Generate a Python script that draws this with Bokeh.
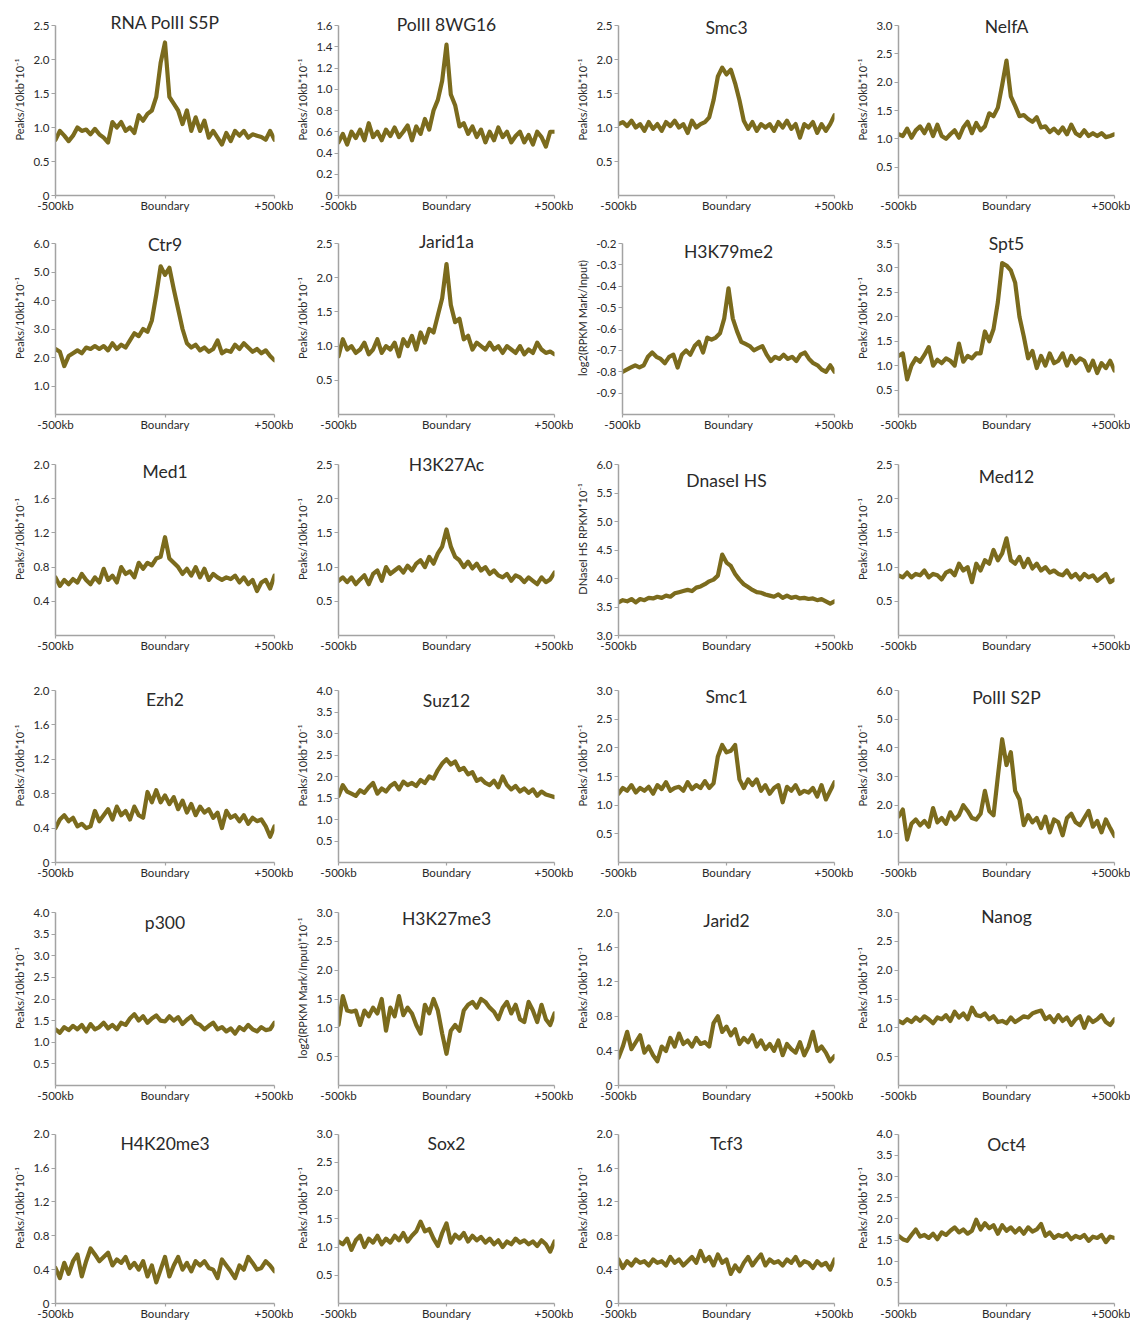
from bokeh.plotting import figure
from bokeh.models import Range1d, FixedTicker, Label
from bokeh.layouts import column, row
from bokeh.embed import file_html
from bokeh.resources import INLINE

# ---------------- data ----------------
positions_kb = list(range(-500, 501, 20))
x_tick_values = [-500, 0, 500]
x_tick_labels = ["-500kb", "Boundary", "+500kb"]

rna_polii_s5p = [0.82, 0.95, 0.88, 0.80, 0.88, 1.00, 0.95, 0.97, 0.90, 0.98, 0.90, 0.85, 0.78, 1.08, 1.00, 1.08, 0.95, 1.00, 0.92, 1.18, 1.10, 1.20, 1.25, 1.45, 1.95, 2.25, 1.45, 1.35, 1.25, 1.05, 1.25, 0.95, 1.15, 0.95, 1.10, 0.85, 0.95, 0.85, 0.75, 0.92, 0.80, 0.95, 0.88, 0.95, 0.85, 0.90, 0.88, 0.86, 0.82, 0.95, 0.82]
polii_8wg16 = [0.50, 0.58, 0.48, 0.60, 0.54, 0.62, 0.52, 0.68, 0.55, 0.60, 0.52, 0.62, 0.56, 0.64, 0.55, 0.60, 0.66, 0.52, 0.65, 0.58, 0.72, 0.62, 0.80, 0.90, 1.08, 1.42, 0.95, 0.85, 0.65, 0.68, 0.58, 0.65, 0.55, 0.62, 0.50, 0.60, 0.52, 0.64, 0.55, 0.60, 0.50, 0.56, 0.60, 0.50, 0.57, 0.48, 0.60, 0.55, 0.46, 0.60, 0.60]
smc3 = [1.05, 1.08, 1.02, 1.10, 1.00, 1.05, 0.95, 1.08, 0.98, 1.05, 0.95, 1.08, 1.02, 1.10, 1.00, 1.05, 0.92, 1.10, 1.00, 1.05, 1.08, 1.15, 1.40, 1.75, 1.88, 1.78, 1.85, 1.65, 1.40, 1.10, 0.98, 1.08, 0.95, 1.05, 1.00, 1.05, 0.95, 1.08, 1.00, 1.10, 0.98, 1.05, 0.85, 1.05, 1.00, 1.08, 0.92, 1.05, 0.95, 1.05, 1.18]
nelfa = [1.08, 1.05, 1.18, 1.02, 1.15, 1.22, 1.10, 1.25, 1.05, 1.25, 1.05, 1.00, 1.08, 1.15, 1.02, 1.20, 1.30, 1.10, 1.28, 1.15, 1.22, 1.45, 1.40, 1.55, 1.95, 2.38, 1.75, 1.58, 1.40, 1.42, 1.35, 1.30, 1.38, 1.20, 1.22, 1.12, 1.18, 1.10, 1.20, 1.08, 1.25, 1.10, 1.05, 1.15, 1.05, 1.10, 1.05, 1.10, 1.03, 1.05, 1.08]
ctr9 = [2.30, 2.20, 1.70, 2.05, 2.15, 2.25, 2.15, 2.35, 2.30, 2.40, 2.30, 2.40, 2.25, 2.50, 2.30, 2.45, 2.35, 2.60, 2.85, 2.75, 3.00, 2.90, 3.30, 4.20, 5.20, 4.90, 5.15, 4.40, 3.70, 3.00, 2.50, 2.35, 2.45, 2.25, 2.35, 2.20, 2.30, 2.60, 2.15, 2.25, 2.20, 2.45, 2.30, 2.50, 2.35, 2.20, 2.30, 2.15, 2.25, 2.05, 1.90]
jarid1a = [0.85, 1.10, 0.95, 1.00, 0.90, 0.95, 1.05, 0.88, 0.95, 1.10, 0.90, 1.00, 0.95, 1.05, 0.85, 1.10, 1.00, 1.15, 0.95, 1.20, 1.05, 1.25, 1.20, 1.45, 1.70, 2.20, 1.60, 1.35, 1.40, 1.10, 1.15, 0.95, 1.05, 1.00, 0.95, 1.05, 0.95, 1.00, 0.90, 1.00, 0.95, 0.90, 1.00, 0.88, 0.95, 0.90, 1.05, 0.95, 0.90, 0.92, 0.88]
h3k79me2 = [-0.80, -0.79, -0.78, -0.77, -0.78, -0.77, -0.73, -0.71, -0.73, -0.74, -0.76, -0.73, -0.72, -0.78, -0.72, -0.70, -0.72, -0.68, -0.66, -0.71, -0.64, -0.65, -0.64, -0.62, -0.55, -0.41, -0.55, -0.61, -0.66, -0.67, -0.68, -0.70, -0.69, -0.68, -0.72, -0.75, -0.73, -0.74, -0.72, -0.74, -0.73, -0.75, -0.72, -0.71, -0.74, -0.76, -0.77, -0.79, -0.80, -0.77, -0.80]
spt5 = [1.20, 1.25, 0.72, 1.00, 1.15, 1.08, 1.22, 1.38, 1.00, 1.12, 1.05, 1.15, 1.10, 1.00, 1.45, 1.08, 1.20, 1.15, 1.25, 1.25, 1.70, 1.50, 1.75, 2.30, 3.10, 3.05, 2.95, 2.70, 2.00, 1.60, 1.15, 1.30, 0.95, 1.20, 1.00, 1.25, 1.05, 1.10, 1.25, 1.00, 1.20, 1.05, 1.15, 1.10, 0.90, 1.10, 0.85, 1.05, 0.95, 1.10, 0.90]
med1 = [0.68, 0.58, 0.65, 0.60, 0.66, 0.62, 0.72, 0.65, 0.60, 0.68, 0.62, 0.78, 0.65, 0.70, 0.62, 0.80, 0.72, 0.75, 0.68, 0.85, 0.78, 0.85, 0.82, 0.90, 0.92, 1.15, 0.90, 0.85, 0.80, 0.72, 0.78, 0.70, 0.80, 0.68, 0.78, 0.65, 0.72, 0.68, 0.65, 0.68, 0.66, 0.70, 0.62, 0.68, 0.60, 0.65, 0.52, 0.62, 0.65, 0.55, 0.70]
h3k27ac = [0.80, 0.85, 0.78, 0.85, 0.75, 0.82, 0.88, 0.75, 0.90, 0.95, 0.80, 1.00, 0.90, 0.95, 1.00, 0.92, 1.02, 0.95, 1.05, 1.10, 1.00, 1.15, 1.05, 1.20, 1.30, 1.55, 1.30, 1.15, 1.10, 1.00, 1.08, 0.98, 1.05, 0.95, 1.00, 0.90, 0.95, 0.88, 0.85, 0.90, 0.80, 0.88, 0.85, 0.78, 0.85, 0.80, 0.75, 0.85, 0.78, 0.82, 0.92]
dnasei_hs = [3.58, 3.62, 3.60, 3.64, 3.58, 3.64, 3.62, 3.66, 3.65, 3.68, 3.66, 3.70, 3.68, 3.74, 3.76, 3.78, 3.80, 3.78, 3.84, 3.86, 3.90, 3.95, 3.98, 4.05, 4.42, 4.28, 4.22, 4.08, 3.98, 3.90, 3.85, 3.80, 3.76, 3.75, 3.72, 3.70, 3.68, 3.72, 3.66, 3.70, 3.66, 3.68, 3.65, 3.66, 3.64, 3.65, 3.62, 3.64, 3.60, 3.56, 3.60]
med12 = [0.88, 0.85, 0.92, 0.85, 0.90, 0.88, 0.95, 0.85, 0.90, 0.88, 0.82, 0.92, 0.95, 0.88, 1.05, 0.95, 1.00, 0.78, 1.05, 0.95, 1.10, 1.05, 1.25, 1.10, 1.20, 1.42, 1.10, 1.05, 1.15, 1.00, 1.12, 0.98, 1.05, 0.95, 1.00, 0.92, 0.95, 0.90, 0.88, 0.95, 0.85, 0.90, 0.82, 0.90, 0.85, 0.88, 0.80, 0.85, 0.90, 0.78, 0.82]
ezh2 = [0.40, 0.50, 0.55, 0.48, 0.52, 0.42, 0.45, 0.40, 0.42, 0.60, 0.48, 0.55, 0.62, 0.50, 0.65, 0.55, 0.60, 0.50, 0.65, 0.55, 0.52, 0.82, 0.70, 0.84, 0.70, 0.78, 0.68, 0.76, 0.62, 0.72, 0.58, 0.68, 0.55, 0.65, 0.58, 0.62, 0.52, 0.58, 0.40, 0.60, 0.52, 0.55, 0.48, 0.55, 0.45, 0.52, 0.48, 0.50, 0.42, 0.30, 0.42]
suz12 = [1.55, 1.80, 1.65, 1.60, 1.55, 1.68, 1.62, 1.75, 1.85, 1.60, 1.72, 1.65, 1.78, 1.85, 1.70, 1.88, 1.80, 1.85, 1.78, 1.92, 1.85, 2.00, 1.95, 2.15, 2.30, 2.40, 2.28, 2.35, 2.15, 2.20, 2.05, 2.10, 1.90, 1.95, 1.85, 1.80, 1.90, 1.75, 2.00, 1.80, 1.70, 1.78, 1.65, 1.72, 1.62, 1.70, 1.55, 1.65, 1.58, 1.55, 1.52]
smc1 = [1.20, 1.30, 1.25, 1.35, 1.22, 1.30, 1.25, 1.32, 1.20, 1.35, 1.28, 1.40, 1.25, 1.30, 1.32, 1.25, 1.40, 1.28, 1.35, 1.30, 1.42, 1.30, 1.38, 1.85, 2.05, 1.92, 1.95, 2.05, 1.45, 1.30, 1.45, 1.35, 1.45, 1.25, 1.35, 1.20, 1.30, 1.35, 1.05, 1.32, 1.25, 1.35, 1.20, 1.25, 1.22, 1.30, 1.15, 1.35, 1.10, 1.25, 1.40]
polii_s2p = [1.60, 1.85, 0.80, 1.35, 1.50, 1.30, 1.45, 1.25, 1.90, 1.40, 1.55, 1.35, 1.75, 1.50, 1.65, 2.00, 1.80, 1.55, 1.50, 1.70, 2.50, 1.80, 1.65, 3.00, 4.30, 3.40, 3.85, 2.50, 2.20, 1.30, 1.65, 1.40, 1.55, 1.20, 1.60, 1.05, 1.50, 1.40, 0.95, 1.55, 1.70, 1.40, 1.30, 1.55, 1.80, 1.25, 1.45, 1.05, 1.50, 1.20, 0.92]
p300 = [1.30, 1.22, 1.35, 1.28, 1.38, 1.30, 1.40, 1.25, 1.42, 1.30, 1.35, 1.45, 1.32, 1.40, 1.30, 1.45, 1.40, 1.55, 1.65, 1.50, 1.60, 1.45, 1.55, 1.62, 1.50, 1.48, 1.60, 1.50, 1.58, 1.42, 1.52, 1.60, 1.45, 1.40, 1.30, 1.38, 1.45, 1.30, 1.35, 1.25, 1.32, 1.20, 1.35, 1.28, 1.40, 1.30, 1.25, 1.35, 1.28, 1.30, 1.45]
h3k27me3 = [1.05, 1.55, 1.30, 1.28, 1.30, 1.05, 1.30, 1.20, 1.35, 1.25, 1.50, 0.95, 1.35, 1.20, 1.55, 1.22, 1.35, 1.25, 1.05, 0.90, 1.40, 1.25, 1.50, 1.30, 0.90, 0.55, 0.95, 1.05, 0.95, 1.30, 1.40, 1.45, 1.35, 1.50, 1.45, 1.35, 1.28, 1.15, 1.35, 1.45, 1.25, 1.40, 1.15, 1.10, 1.45, 1.30, 1.10, 1.40, 1.15, 1.05, 1.25]
jarid2 = [0.32, 0.45, 0.62, 0.42, 0.50, 0.58, 0.38, 0.45, 0.35, 0.28, 0.45, 0.40, 0.55, 0.45, 0.60, 0.48, 0.52, 0.45, 0.55, 0.48, 0.50, 0.45, 0.72, 0.80, 0.62, 0.68, 0.58, 0.65, 0.48, 0.55, 0.50, 0.58, 0.45, 0.52, 0.42, 0.48, 0.40, 0.52, 0.35, 0.48, 0.42, 0.38, 0.50, 0.35, 0.45, 0.62, 0.40, 0.45, 0.38, 0.28, 0.34]
nanog = [1.12, 1.08, 1.15, 1.10, 1.18, 1.12, 1.20, 1.15, 1.08, 1.18, 1.15, 1.22, 1.12, 1.28, 1.18, 1.25, 1.15, 1.35, 1.22, 1.20, 1.25, 1.15, 1.20, 1.10, 1.12, 1.08, 1.18, 1.10, 1.15, 1.20, 1.18, 1.25, 1.28, 1.30, 1.15, 1.20, 1.10, 1.22, 1.12, 1.18, 1.05, 1.15, 1.20, 1.00, 1.18, 1.10, 1.15, 1.22, 1.10, 1.05, 1.15]
h4k20me3 = [0.42, 0.30, 0.48, 0.35, 0.50, 0.58, 0.32, 0.50, 0.65, 0.58, 0.50, 0.55, 0.60, 0.45, 0.52, 0.48, 0.55, 0.42, 0.48, 0.40, 0.50, 0.32, 0.45, 0.25, 0.40, 0.55, 0.32, 0.45, 0.55, 0.40, 0.48, 0.38, 0.50, 0.45, 0.50, 0.42, 0.40, 0.30, 0.52, 0.45, 0.38, 0.30, 0.45, 0.40, 0.55, 0.48, 0.40, 0.42, 0.50, 0.45, 0.38]
sox2 = [1.10, 1.05, 1.15, 0.95, 1.12, 1.20, 1.00, 1.15, 1.08, 1.20, 1.05, 1.15, 1.08, 1.20, 1.12, 1.25, 1.10, 1.20, 1.28, 1.45, 1.28, 1.32, 1.15, 1.02, 1.25, 1.42, 1.08, 1.22, 1.15, 1.25, 1.10, 1.20, 1.12, 1.18, 1.08, 1.15, 1.05, 1.12, 1.00, 1.10, 1.05, 1.15, 1.08, 1.12, 1.05, 1.10, 1.02, 1.12, 1.05, 0.92, 1.10]
tcf3 = [0.52, 0.42, 0.50, 0.45, 0.52, 0.48, 0.50, 0.45, 0.52, 0.48, 0.50, 0.45, 0.55, 0.48, 0.52, 0.45, 0.50, 0.55, 0.48, 0.62, 0.50, 0.55, 0.45, 0.58, 0.48, 0.52, 0.35, 0.45, 0.38, 0.48, 0.55, 0.45, 0.52, 0.58, 0.45, 0.52, 0.48, 0.50, 0.45, 0.52, 0.48, 0.55, 0.45, 0.50, 0.48, 0.42, 0.50, 0.45, 0.48, 0.40, 0.52]
oct4 = [1.60, 1.52, 1.48, 1.62, 1.75, 1.58, 1.62, 1.55, 1.65, 1.52, 1.68, 1.62, 1.72, 1.80, 1.68, 1.75, 1.65, 1.72, 1.98, 1.75, 1.90, 1.78, 1.85, 1.65, 1.85, 1.72, 1.80, 1.68, 1.78, 1.65, 1.80, 1.70, 1.75, 1.88, 1.60, 1.68, 1.55, 1.62, 1.58, 1.65, 1.52, 1.60, 1.55, 1.62, 1.48, 1.58, 1.55, 1.62, 1.45, 1.58, 1.55]

titles = ["RNA PolII S5P", "PolII 8WG16", "Smc3", "NelfA",
          "Ctr9", "Jarid1a", "H3K79me2", "Spt5",
          "Med1", "H3K27Ac", "DnaseI HS", "Med12",
          "Ezh2", "Suz12", "Smc1", "PolII S2P",
          "p300", "H3K27me3", "Jarid2", "Nanog",
          "H4K20me3", "Sox2", "Tcf3", "Oct4"]
series = [rna_polii_s5p, polii_8wg16, smc3, nelfa,
          ctr9, jarid1a, h3k79me2, spt5,
          med1, h3k27ac, dnasei_hs, med12,
          ezh2, suz12, smc1, polii_s2p,
          p300, h3k27me3, jarid2, nanog,
          h4k20me3, sox2, tcf3, oct4]

y_ranges = [(0, 2.5), (0, 1.6), (0, 2.5), (0, 3.0),
            (0, 6.0), (0, 2.5), (-1.0, -0.2), (0, 3.5),
            (0, 2.0), (0, 2.5), (3.0, 6.0), (0, 2.5),
            (0, 2.0), (0, 4.0), (0, 3.0), (0, 6.0),
            (0, 4.0), (0, 3.0), (0, 2.0), (0, 3.0),
            (0, 2.0), (0, 3.0), (0, 2.0), (0, 4.0)]

t_025z = [0, 0.5, 1.0, 1.5, 2.0, 2.5]
t_016z = [0, 0.2, 0.4, 0.6, 0.8, 1.0, 1.2, 1.4, 1.6]
t_025 = [0.5, 1.0, 1.5, 2.0, 2.5]
t_030 = [0.5, 1.0, 1.5, 2.0, 2.5, 3.0]
t_035 = [0.5, 1.0, 1.5, 2.0, 2.5, 3.0, 3.5]
t_040 = [0.5, 1.0, 1.5, 2.0, 2.5, 3.0, 3.5, 4.0]
t_060 = [1.0, 2.0, 3.0, 4.0, 5.0, 6.0]
t_020 = [0.4, 0.8, 1.2, 1.6, 2.0]
t_020z = [0, 0.4, 0.8, 1.2, 1.6, 2.0]
t_neg = [-0.9, -0.8, -0.7, -0.6, -0.5, -0.4, -0.3, -0.2]
t_dn = [3.0, 3.5, 4.0, 4.5, 5.0, 5.5, 6.0]
y_ticks = [t_025z, t_016z, t_025, t_030,
           t_060, t_025, t_neg, t_035,
           t_020, t_025, t_dn, t_025,
           t_020z, t_040, t_030, t_060,
           t_040, t_030, t_020z, t_030,
           t_020z, t_030, t_020z, t_040]

peaks_label = "Peaks/10kb*10\u207b\u00b9"
y_labels = [peaks_label] * 24
y_labels[6] = "log2(RPKM Mark/Input)"
y_labels[10] = "DNaseI HS RPKM*10\u207b\u00b9"
y_labels[17] = "log2(RPKM Mark/Input)*10\u207b\u00b9"

# ---------------- layout / style ----------------
title_offsets_px = [-3, -1, 2, 1,
                    1, -2, 8, 0,
                    7, 0, 16, 12,
                    9, 10, 6, 7,
                    10, 6, 8, 4,
                    9, 9, 9, 10]
col_widths = [293, 280, 280, 277]
col_left = [55, 42, 42, 42]
frame_w = 219
row_heights = [220, 220, 225, 222, 222, 213]
row_top = [25, 23, 24, 25, 25, 25]
row_frame_h = [170, 171, 171, 172, 173, 171]
headroom_px = 22

FONT = "Lato"
LINE_COLOR = "#7b6b1d"
AXIS_COLOR = "#a3a3a3"
TEXT_COLOR = "#2a2a2a"


def tick_label(v):
    return "0" if v == 0 else f"{v:.1f}"


rows = []
for r in range(6):
    figs = []
    for c in range(4):
        k = r * 4 + c
        ymin, ymax = y_ranges[k]
        w = col_widths[c]
        h = row_heights[r]
        fh = row_frame_h[r]
        per_px = (ymax - ymin) / fh
        ytop = ymax + headroom_px * per_px
        p = figure(width=w, height=h, output_backend="svg", toolbar_location=None,
                   x_range=Range1d(-500, 500), y_range=Range1d(ymin, ytop),
                   min_border_left=col_left[c], min_border_right=w - col_left[c] - frame_w,
                   min_border_top=row_top[r] - headroom_px,
                   min_border_bottom=h - row_top[r] - fh)
        p.outline_line_color = None
        p.grid.visible = False
        p.background_fill_color = "white"
        p.border_fill_color = "white"

        p.line(positions_kb, series[k], line_color=LINE_COLOR, line_width=4.2,
               line_join="round", line_cap="round")

        xa = p.xaxis[0]
        xa.ticker = FixedTicker(ticks=x_tick_values)
        xa.major_label_overrides = {v: s for v, s in zip(x_tick_values, x_tick_labels)}
        ya = p.yaxis[0]
        ya.ticker = FixedTicker(ticks=y_ticks[k])
        ya.major_label_overrides = {v: tick_label(v) for v in y_ticks[k]}
        ya.bounds = (ymin, ymax)
        ya.axis_label = y_labels[k]
        for ax in (xa, ya):
            ax.axis_line_color = AXIS_COLOR
            ax.axis_line_width = 1.5
            ax.major_tick_line_color = AXIS_COLOR
            ax.major_tick_line_width = 1.2
            ax.major_tick_in = 0
            ax.minor_tick_line_color = None
            ax.major_label_text_font = FONT
            ax.major_label_text_font_size = "11.5px"
            ax.major_label_text_color = TEXT_COLOR
        ya.major_tick_out = 4
        ya.major_label_standoff = 2
        xa.major_tick_out = 3
        xa.major_label_standoff = 0
        ya.axis_label_text_font = FONT
        ya.axis_label_text_font_size = "11px"
        ya.axis_label_text_font_style = "normal"
        ya.axis_label_text_color = TEXT_COLOR
        ya.axis_label_standoff = 4

        ty = ymax - title_offsets_px[k] * per_px
        p.add_layout(Label(x=0, y=ty, text=titles[k], text_align="center",
                           text_baseline="middle", text_font=FONT,
                           text_font_size="17.5px", text_color=TEXT_COLOR))
        figs.append(p)
    rows.append(row(*figs))

layout = column(*rows)
open("out.html", "w").write(file_html(layout, INLINE))
